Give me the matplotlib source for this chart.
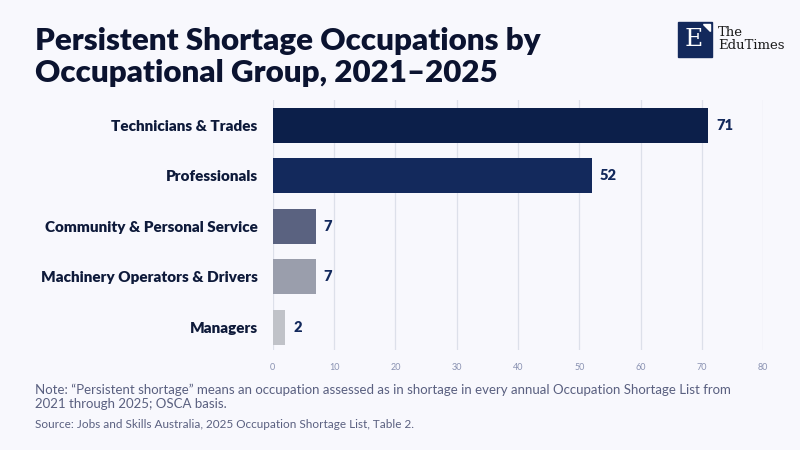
import matplotlib.pyplot as plt
from matplotlib.patches import Rectangle, Polygon

groups = ['Technicians & Trades', 'Professionals', 'Community & Personal Service',
          'Machinery Operators & Drivers', 'Managers']
counts = [71, 52, 7, 7, 2]
colors = ['#0c1f4a', '#13295c', '#5a6280', '#9a9eac', '#c0c2c8']
xticks = [0, 10, 20, 30, 40, 50, 60, 70, 80]

bg = '#f8f8fd'
ink = '#0e1a3a'

plt.rcParams['font.family'] = ['Lato', 'DejaVu Sans']

fig = plt.figure(figsize=(8, 4.5), dpi=100, facecolor=bg)
ax = fig.add_axes([0.341, 0.222, 0.613, 0.556], facecolor=bg)

ypos = list(range(len(groups)))
ax.barh(ypos, counts, height=0.69, color=colors, zorder=3)
for y, v in zip(ypos, counts):
    ax.text(v + 1.3, y, str(v), va='center', ha='left', fontsize=10.5,
            fontweight='heavy', color='#13295c')

ax.set_xlim(0, 80)
ax.set_ylim(4.45, -0.5)
ax.set_xticks(xticks)
ax.set_xticklabels([str(t) for t in xticks])
ax.set_yticks(ypos)
ax.set_yticklabels(groups, fontsize=11, fontweight='heavy', color=ink)
ax.tick_params(axis='x', length=0, labelsize=6.5, labelcolor='#8a92b2', pad=9)
ax.tick_params(axis='y', length=0, pad=11)
ax.grid(axis='x', color='#dde0ea', linewidth=0.9, zorder=0)
for s in ax.spines.values():
    s.set_visible(False)

fig.text(0.044, 0.94, 'Persistent Shortage Occupations by\nOccupational Group, 2021\u20132025',
         fontsize=22.5, fontweight='heavy', color='#0b1330', va='top', ha='left',
         linespacing=1.18)

fig.text(0.044, 0.148, 'Note: \u201cPersistent shortage\u201d means an occupation assessed as in shortage in every annual Occupation Shortage List from\n2021 through 2025; OSCA basis.',
         fontsize=9.5, color='#5a6080', va='top', ha='left', linespacing=1.2)
fig.text(0.044, 0.068, 'Source: Jobs and Skills Australia, 2025 Occupation Shortage List, Table 2.',
         fontsize=8.5, color='#5a6080', va='top', ha='left')

# logo
fig.patches.append(Rectangle((678 / 800, 1 - 57 / 450), 34 / 800, 35 / 450,
                             transform=fig.transFigure, color='#13295c'))
fig.patches.append(Polygon([(703 / 800, 1 - 24 / 450), (710 / 800, 1 - 24 / 450),
                            (710 / 800, 1 - 31 / 450)],
                           transform=fig.transFigure, color='white'))
fig.text(694 / 800, 1 - 40 / 450, 'E', fontsize=18, family='DejaVu Serif',
         color='white', ha='center', va='center')
fig.text(718 / 800, 1 - 39 / 450, 'The\nEduTimes', fontsize=9.5, family='DejaVu Serif',
         color='#1a1a1a', ha='left', va='center', linespacing=1.0)

fig.savefig('out.png', dpi=100, facecolor=bg)
